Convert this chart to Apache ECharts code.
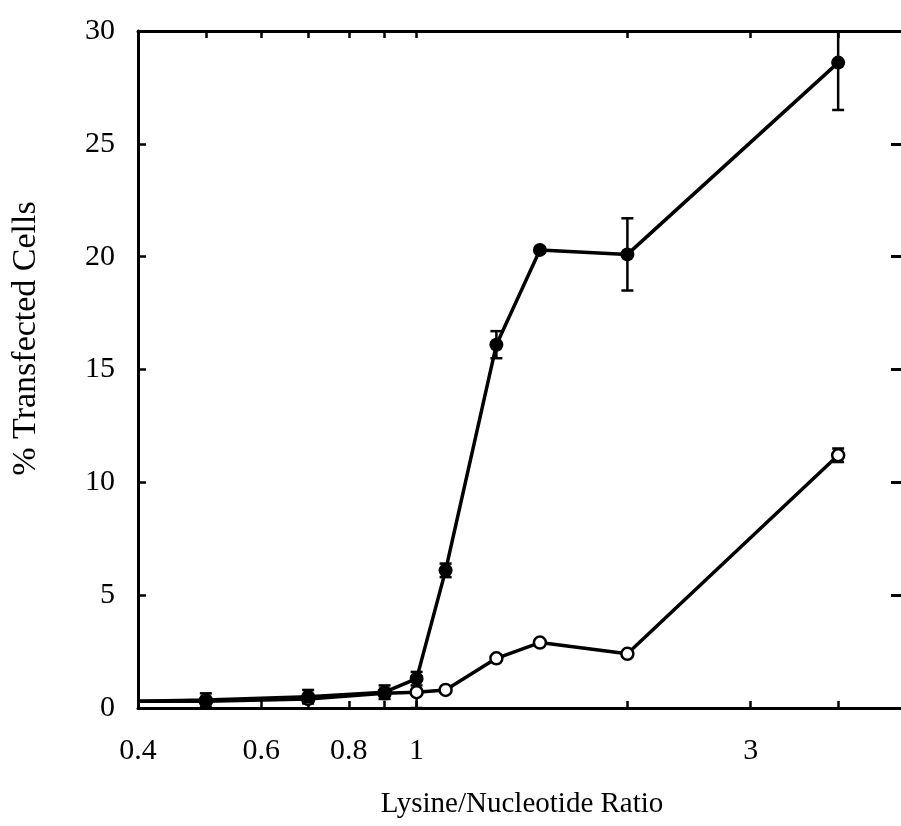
<!DOCTYPE html>
<html><head><meta charset="utf-8">
<script src="https://cdn.jsdelivr.net/npm/echarts@6/dist/echarts.min.js"></script>
<style>html,body{margin:0;padding:0;background:#fff;overflow:hidden}#c{width:906px;height:826px}</style>
</head><body><div id="c"></div>
<script>
// Data (x = Lysine/Nucleotide ratio, y = % transfected cells)
var ratios = [0.4, 0.5, 0.7, 0.9, 1.0, 1.1, 1.3, 1.5, 2.0, 4.0];
var seriesFilled = [0.3, 0.35, 0.5, 0.7, 1.3, 6.1, 16.1, 20.3, 20.1, 28.6];
var errFilled =    [0,   0.3,  0.3, 0.3, 0.3, 0.3, 0.6,  0,    1.6,  2.1];
var seriesOpen =   [0.3, 0.3, 0.4, 0.65, 0.7, 0.8, 2.2, 2.9, 2.4, 11.2];
var errOpen =      [0,   0,   0,   0,    0.7, 0,   0,   0,   0,   0.3];
var xLabelValues = [0.4, 0.6, 0.8, 1, 3];
var xTickValues = [0.5, 0.6, 0.7, 0.8, 0.9, 1, 2, 3, 4];
var xMin = 0.4, xMax = 5;
var yMin = 0, yMax = 30, yStep = 5;

var L = Math.log10;
function pts(ys){ return ratios.map(function(x,i){ return [L(x), ys[i]]; }); }
function errs(ys, es){
  var out = [];
  ratios.forEach(function(x,i){ if (es[i] > 0) out.push([L(x), ys[i]-es[i], ys[i]+es[i]]); });
  return out;
}
function errRender(params, api){
  var x = api.value(0), lo = api.value(1), hi = api.value(2);
  var p1 = api.coord([x, lo]), p2 = api.coord([x, hi]);
  var w = 6;
  var st = {stroke:'#000', lineWidth:2.5};
  return {type:'group', children:[
    {type:'line', shape:{x1:p1[0],y1:p1[1],x2:p2[0],y2:p2[1]}, style:st},
    {type:'line', shape:{x1:p1[0]-w,y1:p1[1],x2:p1[0]+w,y2:p1[1]}, style:st},
    {type:'line', shape:{x1:p2[0]-w,y1:p2[1],x2:p2[0]+w,y2:p2[1]}, style:st}
  ]};
}
function symSize(size){
  return function(v){ return v[0] <= L(xMin) + 1e-9 ? 0 : size; };
}
var font = '"Liberation Serif", "DejaVu Serif", serif';
var chart = echarts.init(document.getElementById('c'), null, {renderer:'canvas'});
chart.setOption({
  animation:false,
  backgroundColor:'#fff',
  grid:{left:138, top:31, bottom:118, right:0, containLabel:false},
  xAxis:[{
    type:'value', position:'bottom', min:L(xMin), max:L(xMax),
    name:'Lysine/Nucleotide Ratio', nameLocation:'middle', nameGap:82,
    nameTextStyle:{fontFamily:font, fontSize:29, color:'#000'},
    axisLine:{onZero:false, lineStyle:{color:'#000', width:3}},
    axisTick:{inside:true, length:7, lineStyle:{color:'#000', width:2.5}, customValues:xTickValues.map(L)},
    axisLabel:{margin:28, fontFamily:font, fontSize:30, color:'#000',
      customValues:xLabelValues.map(L),
      formatter:function(v){ return String(Math.round(Math.pow(10,v)*10)/10); }},
    splitLine:{show:false}
  },{
    type:'value', position:'top', min:L(xMin), max:L(xMax),
    axisLine:{onZero:false, lineStyle:{color:'#000', width:3}},
    axisTick:{inside:true, length:7, lineStyle:{color:'#000', width:2.5}, customValues:xTickValues.map(L)},
    axisLabel:{show:false}, splitLine:{show:false}
  }],
  yAxis:[{
    type:'value', position:'left', min:yMin, max:yMax, interval:yStep,
    name:'% Transfected Cells', nameLocation:'middle', nameGap:95, nameRotate:90,
    nameTextStyle:{fontFamily:font, fontSize:34, color:'#000', padding:[0,0,0,62]},
    axisLine:{show:true, onZero:false, lineStyle:{color:'#000', width:3}},
    axisTick:{show:true, inside:true, length:8, lineStyle:{color:'#000', width:2.5}},
    axisLabel:{margin:23, fontFamily:font, fontSize:30, color:'#000'},
    splitLine:{show:false}
  },{
    type:'value', position:'right', min:yMin, max:yMax, interval:yStep,
    axisLine:{show:true, onZero:false, lineStyle:{color:'#000', width:3}},
    axisTick:{show:true, inside:true, length:15, lineStyle:{color:'#000', width:3}},
    axisLabel:{show:false}, splitLine:{show:false}
  }],
  series:[
    {type:'custom', renderItem:errRender, data:errs(seriesFilled, errFilled), clip:true, z:1, silent:true},
    {type:'custom', renderItem:errRender, data:errs(seriesOpen, errOpen), clip:true, z:1, silent:true},
    {type:'line', data:pts(seriesOpen), symbol:'circle', symbolSize:symSize(12), showSymbol:true,
      lineStyle:{color:'#000', width:3.5}, itemStyle:{color:'#fff', borderColor:'#000', borderWidth:2.5}, z:3},
    {type:'line', data:pts(seriesFilled), symbol:'circle', symbolSize:symSize(14), showSymbol:true,
      lineStyle:{color:'#000', width:3.5}, itemStyle:{color:'#000'}, z:4}
  ]
});
</script></body></html>
